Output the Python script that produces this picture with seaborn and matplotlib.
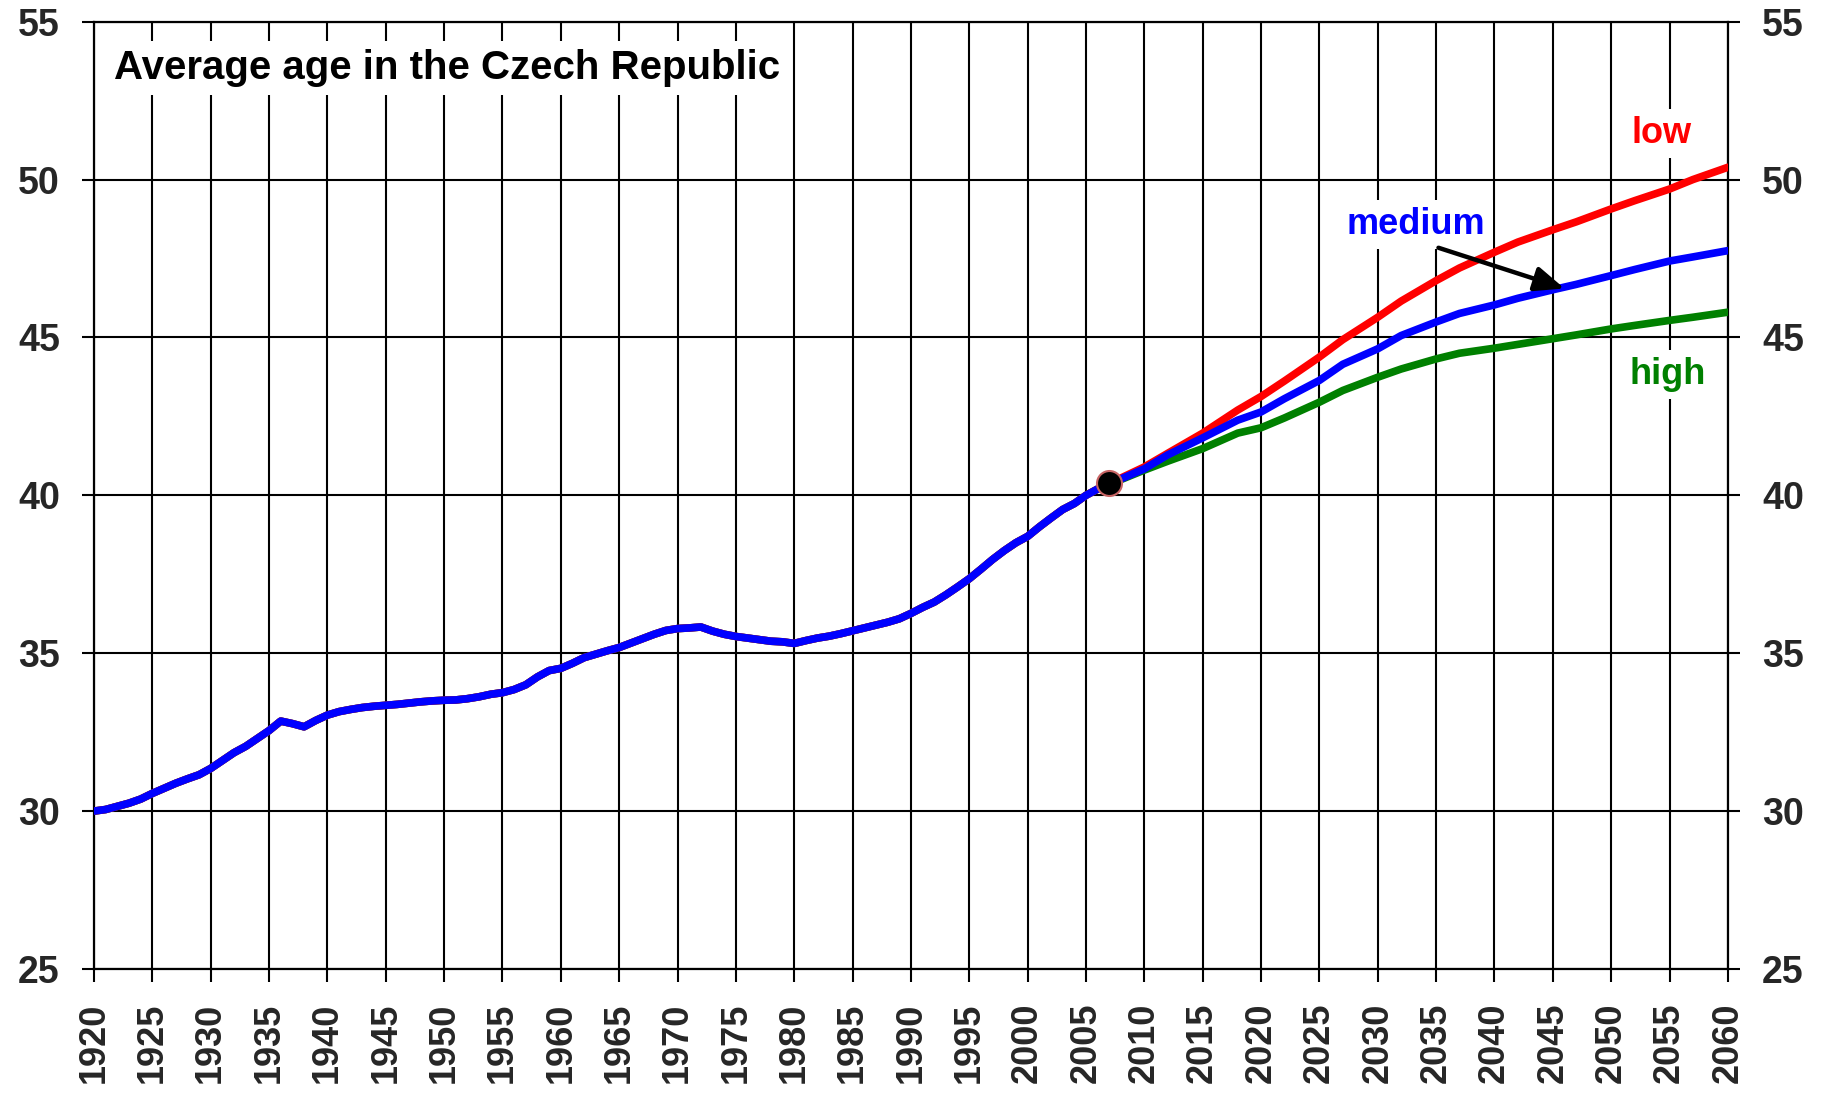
import numpy as np
import pandas as pd
import matplotlib
matplotlib.use("Agg")
import matplotlib.pyplot as plt
import seaborn as sns

# ---------------- data ----------------
hist_years = list(range(1920, 2008))
hist_age = [
    30.00, 30.05, 30.15, 30.25, 30.38, 30.56, 30.72, 30.88, 31.02, 31.15,   # 1920-1929
    31.35, 31.60, 31.85, 32.05, 32.30, 32.55, 32.85, 32.77, 32.67, 32.87,   # 1930-1939
    33.04, 33.15, 33.22, 33.28, 33.32, 33.35, 33.38, 33.42, 33.46, 33.49,   # 1940-1949
    33.51, 33.52, 33.56, 33.62, 33.70, 33.75, 33.85, 34.00, 34.25, 34.45,   # 1950-1959
    34.52, 34.68, 34.86, 34.97, 35.08, 35.18, 35.32, 35.46, 35.60, 35.72,   # 1960-1969
    35.78, 35.80, 35.83, 35.70, 35.60, 35.53, 35.48, 35.43, 35.38, 35.36,   # 1970-1979
    35.31, 35.40, 35.48, 35.54, 35.62, 35.71, 35.80, 35.89, 35.98, 36.09,   # 1980-1989
    36.26, 36.45, 36.62, 36.85, 37.10, 37.36, 37.66, 37.97, 38.25, 38.50,   # 1990-1999
    38.70, 39.00, 39.28, 39.55, 39.74, 40.00, 40.20, 40.38,                 # 2000-2007
]

proj_years = [2008, 2010, 2012, 2015, 2018, 2020, 2022, 2025, 2027, 2030, 2032,
              2035, 2037, 2040, 2042, 2045, 2047, 2050, 2052, 2055, 2057, 2060]
low_age = [40.55, 40.90, 41.33, 41.97, 42.70, 43.13, 43.62, 44.38, 44.93, 45.64, 46.15,
           46.80, 47.20, 47.70, 48.02, 48.41, 48.66, 49.07, 49.33, 49.70, 50.00, 50.39]
medium_age = [40.52, 40.84, 41.28, 41.82, 42.38, 42.64, 43.06, 43.64, 44.15, 44.64, 45.06,
              45.49, 45.76, 46.03, 46.24, 46.51, 46.68, 46.96, 47.15, 47.42, 47.55, 47.75]
high_age = [40.50, 40.80, 41.08, 41.48, 41.97, 42.14, 42.45, 42.95, 43.32, 43.74, 44.00,
            44.32, 44.50, 44.66, 44.78, 44.96, 45.08, 45.27, 45.38, 45.54, 45.64, 45.80]

variants = ["high", "low", "medium"]
variant_colors = {"low": "#ff0000", "medium": "#0000ff", "high": "#008000"}
base_year = 2007
base_age = 40.38

title_text = "Average age in the Czech Republic"
x_ticks = list(range(1920, 2061, 5))
y_ticks = list(range(25, 56, 5))

# ---------------- build long table ----------------
rows = []
proj = {"low": low_age, "medium": medium_age, "high": high_age}
for v in variants:
    for yr, a in zip(hist_years, hist_age):
        rows.append((v, yr, a))
    for yr, a in zip(proj_years, proj[v]):
        rows.append((v, yr, a))
df = pd.DataFrame(rows, columns=["variant", "year", "age"])

# ---------------- plot ----------------
sns.set_theme(style="white")
plt.rcParams["font.family"] = ["Liberation Sans", "DejaVu Sans"]
plt.rcParams["font.weight"] = "bold"

fig = plt.figure(figsize=(18.25, 10.95), dpi=100)
ax = fig.add_axes([0.0515, 0.1151, 0.8953, 0.8651])

sns.lineplot(data=df, x="year", y="age", hue="variant", hue_order=variants,
             palette=variant_colors, linewidth=5.5, legend=False, ax=ax,
             zorder=4, sort=True)

ax.plot([base_year], [base_age], marker="o", markersize=18,
        markerfacecolor="black", markeredgecolor="#c86464",
        markeredgewidth=1.5, linestyle="none", zorder=6)

ax.set_xlim(1920, 2060)
ax.set_ylim(25, 55)
ax.set_xticks(x_ticks)
ax.set_yticks(y_ticks)
ax.set_xticklabels([str(t) for t in x_ticks], rotation=90, fontsize=26,
                   fontweight="bold")
ax.set_yticklabels([str(t) for t in y_ticks], fontsize=27, fontweight="bold")
ax.set_xlabel("")
ax.set_ylabel("")

ax.grid(True, color="black", linewidth=1.5)
ax.set_axisbelow(True)
for s in ax.spines.values():
    s.set_color("black")
    s.set_linewidth(1.6)

ax.tick_params(axis="y", which="both", left=True, right=True,
               labelleft=True, labelright=True, direction="out",
               length=8.6, width=1.5, color="black", pad=16)
ax.tick_params(axis="x", which="both", bottom=True, top=False,
               direction="out", length=9, width=1.5, color="black", pad=15)

# title inside plot
ax.text(1921.75, 53.19, title_text, fontsize=29, fontweight="bold",
        color="black", ha="left", va="baseline", zorder=3,
        bbox=dict(boxstyle="square,pad=0.2", facecolor="white",
                  edgecolor="none"))

# series labels
ax.text(2054.3, 51.15, "low", fontsize=26, fontweight="bold",
        color=variant_colors["low"], ha="center", va="baseline", zorder=3,
        bbox=dict(boxstyle="square,pad=0.2", facecolor="white", edgecolor="none"))
ax.text(2033.3, 48.28, "medium", fontsize=26, fontweight="bold",
        color=variant_colors["medium"], ha="center", va="baseline", zorder=3,
        bbox=dict(boxstyle="square,pad=0.2", facecolor="white", edgecolor="none"))
ax.text(2054.8, 43.53, "high", fontsize=26, fontweight="bold",
        color=variant_colors["high"], ha="center", va="baseline", zorder=3,
        bbox=dict(boxstyle="square,pad=0.2", facecolor="white", edgecolor="none"))

# arrow pointing to the medium line
ax.annotate("", xy=(2046.0, 46.55), xytext=(2035.2, 47.84),
            arrowprops=dict(arrowstyle="-|>,head_length=0.6,head_width=0.25",
                            mutation_scale=30, color="black", lw=3.2,
                            shrinkA=0, shrinkB=0),
            zorder=7)

fig.savefig("out.png", dpi=100, facecolor="white")
